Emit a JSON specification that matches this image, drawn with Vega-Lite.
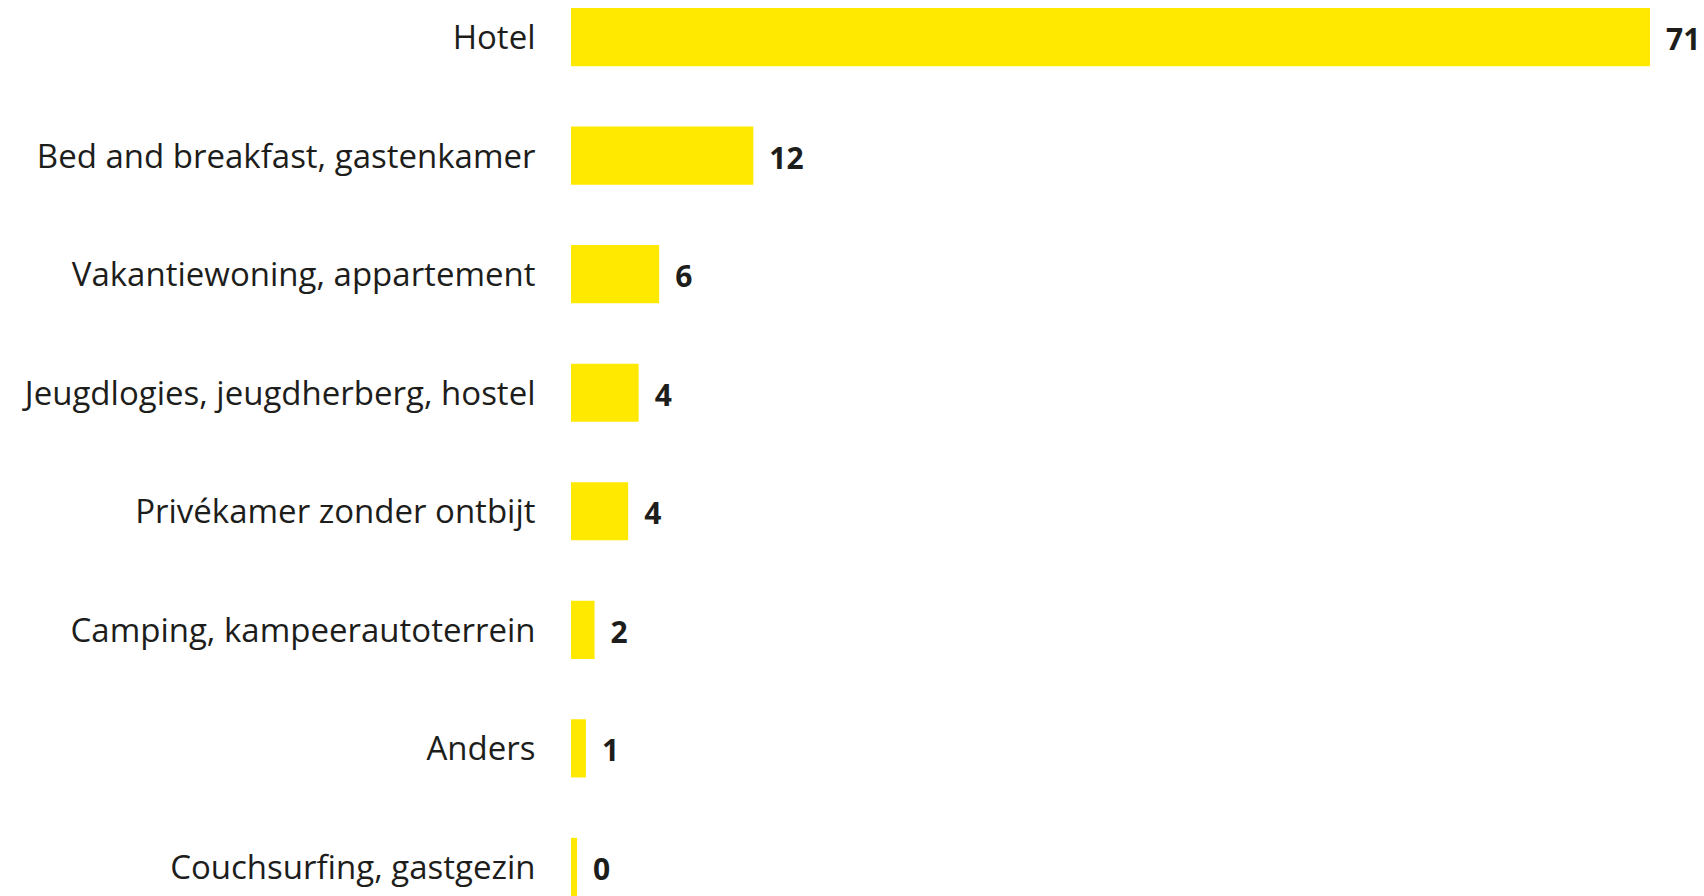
{
  "$schema": "https://vega.github.io/schema/vega-lite/v6.json",
  "autosize": {"type": "none"},
  "padding": {"left": 571, "top": 8, "right": 54, "bottom": 0},
  "width": 1079,
  "height": 888,
  "background": "white",
  "config": {"view": {"stroke": null}, "font": "Open Sans"},
  "data": {"values": [
    {"categorie": "Hotel", "waarde": 71},
    {"categorie": "Bed and breakfast, gastenkamer", "waarde": 12.0},
    {"categorie": "Vakantiewoning, appartement", "waarde": 5.8},
    {"categorie": "Jeugdlogies, jeugdherberg, hostel", "waarde": 4.45},
    {"categorie": "Privékamer zonder ontbijt", "waarde": 3.76},
    {"categorie": "Camping, kampeerautoterrein", "waarde": 1.55},
    {"categorie": "Anders", "waarde": 0.98},
    {"categorie": "Couchsurfing, gastgezin", "waarde": 0.4}
  ]},
  "encoding": {
    "y": {
      "field": "categorie", "type": "nominal", "sort": null,
      "scale": {"paddingInner": 0.509, "paddingOuter": 0},
      "axis": {
        "title": null, "domain": false, "ticks": false, "grid": false,
        "labelFont": "Open Sans", "labelFontSize": 33, "labelColor": "#1d1d1b",
        "labelPadding": 36, "labelLimit": 0, "labelOffset": 2
      }
    },
    "x": {
      "field": "waarde", "type": "quantitative",
      "scale": {"domain": [0, 71], "nice": false, "zero": true},
      "axis": null
    }
  },
  "layer": [
    {"mark": {"type": "bar", "color": "#FFE900"}},
    {
      "mark": {"type": "text", "align": "left", "baseline": "middle", "dx": 16, "dy": 4, "font": "Open Sans", "fontWeight": "bold", "fontSize": 30, "color": "#1d1d1b"},
      "encoding": {"text": {"field": "waarde", "type": "quantitative", "format": ".0f"}}
    }
  ]
}
